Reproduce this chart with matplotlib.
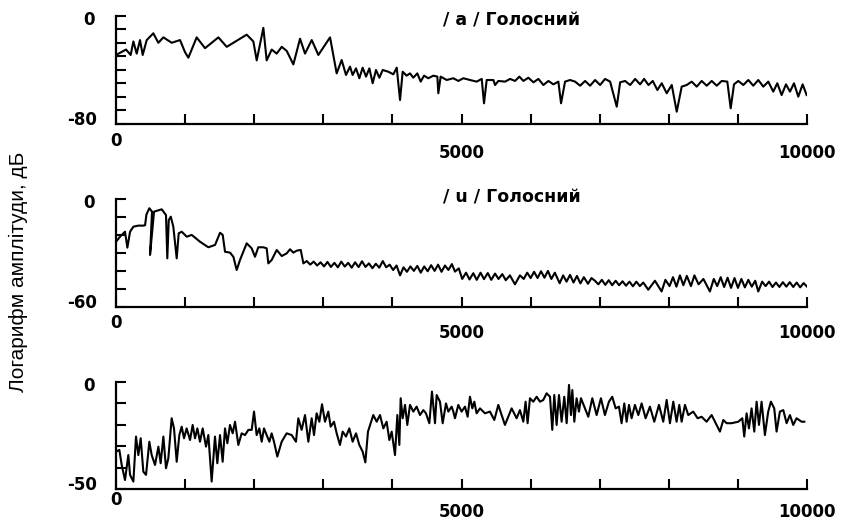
import matplotlib
matplotlib.use("Agg")
import matplotlib.pyplot as plt

plt.rcParams['font.family'] = ['Liberation Sans', 'DejaVu Sans']

# /a/ vowel spectrum, Hz and dB
a_hz = [0, 145, 212, 251, 299, 347, 386, 444, 540, 612, 685, 806, 926, 999, 1047, 1167, 1288, 1481, 1602, 1891,
        1987, 2036, 2132, 2180, 2253, 2325, 2398, 2470, 2566, 2663, 2735, 2832, 2928, 3097,
        3193, 3265, 3328, 3386, 3424, 3473, 3521, 3569, 3618, 3666, 3714, 3762, 3811, 3859, 3941, 4013, 4062, 4110,
        4148, 4206, 4254, 4302, 4360, 4409, 4457, 4519, 4592, 4650, 4664, 4698, 4785, 4881, 4954, 5026, 5123, 5219,
        5292, 5325, 5364, 5461, 5485, 5533, 5630, 5702, 5774, 5837, 5895, 5967, 6040, 6112, 6184, 6257, 6329, 6401,
        6440, 6498, 6571,
        6643, 6716, 6788, 6860, 6933, 7005, 7077, 7150, 7246, 7295, 7367, 7440, 7512, 7584, 7642, 7705, 7767, 7834,
        7897, 7969, 8042, 8114, 8186, 8258, 8331, 8403, 8475, 8548, 8620, 8693, 8765, 8846, 8895, 8943, 9005, 9078,
        9150, 9222, 9294, 9367, 9439, 9511, 9569, 9632, 9695, 9753, 9811, 9873, 9936, 9994]
a_db = [-29, -25, -29, -19, -28, -18, -29, -18, -13, -20, -16, -20, -18, -27, -31, -16, -24, -16, -23, -14,
        -19, -33, -9, -33, -25, -28, -23, -26, -36, -17, -28, -18, -29, -16,
        -42.6, -32.7, -43.8, -37.6, -43.8, -38.9, -46.2, -38.4, -45, -38.9, -49.9, -40.1, -45.8, -40.1, -41.4, -43.3,
        -38.4, -62.3, -41.4, -44.3, -42.6, -45.8, -42.6, -48.7, -44.3, -46.2, -44.3, -45, -57.3, -45, -47.5, -46.2,
        -48.2, -46.2, -47.5, -48.7, -46.7, -64.7, -47.5, -47.5, -51.2, -48.2, -48.7, -46.7, -48.2, -45, -48.2, -45.8,
        -49.2, -46.7, -51.2, -48.2, -50.7, -48.7, -64.7, -48.7, -47.5,
        -48.7, -51.7, -48.2, -51.7, -47.5, -51.2, -46.7, -48.7, -67.2, -49.2, -48.2, -51.2, -46.7, -50.7, -46.7, -51.2,
        -48.2, -54.9, -49.9, -57.3, -51.2, -70.9, -52.4, -51.2, -48.7, -52.4, -48.2, -51.7, -48.2, -51.7, -48.2, -48.7,
        -68.4, -50.7, -48.2, -51.2, -47.5, -51.7, -47.5, -52.4, -48.7, -56.1, -49.9, -58.6, -50.7, -56.1, -49.9, -59.8,
        -50.7, -58.6]

# /u/ vowel spectrum
u_hz = [0, 58, 130, 164, 203, 251, 323, 395, 420, 440, 482, 521, 492, 550, 661, 723, 742, 763, 792, 829,
        878, 907, 951, 1023, 1095, 1215, 1336, 1433, 1505, 1544, 1577, 1650, 1698, 1746, 1794, 1891, 1963, 2011, 2059, 2132,
        2180, 2204, 2253, 2325, 2398, 2470, 2518, 2566, 2614, 2673,
        2711, 2760, 2810, 2860, 2910, 2960, 3010, 3060, 3110, 3160, 3210, 3260, 3310, 3360, 3410, 3460, 3510, 3560,
        3610, 3660, 3710, 3760, 3810, 3860, 3910, 3960, 4010, 4060, 4110, 4160, 4210, 4260, 4310, 4360, 4410, 4460,
        4510, 4560, 4610, 4660, 4710, 4760, 4810, 4860,
        4905, 4960, 5010, 5065, 5115, 5170, 5220, 5275, 5325, 5380, 5430, 5485, 5535, 5590, 5640, 5700, 5773, 5845,
        5900, 5950, 6000, 6050, 6100, 6150, 6200, 6250, 6300, 6350, 6420, 6470, 6520, 6570, 6620, 6670, 6720, 6770,
        6830, 6880, 6930, 6980, 7030, 7080, 7130, 7180, 7230, 7280, 7330, 7380, 7430, 7480, 7530, 7580, 7630, 7702,
        7799, 7895, 7950, 8010, 8060, 8110, 8160, 8210, 8260, 8320, 8370, 8430, 8500, 8594, 8650, 8700, 8750, 8800,
        8850, 8900, 8950, 9000, 9050, 9100, 9150, 9200, 9250, 9294, 9350, 9400, 9450, 9500, 9550, 9600, 9650, 9700,
        9750, 9800, 9850, 9900, 9950, 10000]
u_db = [-23.7, -20.9, -18.1, -27, -18.1, -15.3, -14.7, -14.7, -14.5, -8.5, -5.0, -6.9, -31.1, -6.9, -5.6, -8.8,
        -33, -11.6, -9.7, -15.3, -33, -19, -18.1, -20.9, -19.9, -23.7, -26.8, -25.5, -18.7, -19.9, -29.3, -29.8,
        -32.1, -39.5, -33.9, -24.6, -27.4, -32.1, -26.8, -26.8, -27.4, -35.8, -33.9, -28.3, -31.7, -30.2, -27.9,
        -29.8, -28.7, -28.3,
        -35.8, -34.5, -36.5, -34.8, -37, -35.2, -37.5, -35.0, -37.8, -35.5, -38, -34.8, -37.6, -35.5, -38.2, -35.2,
        -37.9, -34.6, -37.8, -35.8, -38.5, -36, -38.2, -34.5, -38, -36.5, -39.5, -37, -42.5, -38, -40.5, -37.5, -40,
        -37.2, -41, -37.5, -40.2, -36.8, -40, -36.5, -40.5, -37, -39.5, -36.2,
        -40.4, -38.6, -44.5, -41.0, -44.8, -41.3, -45.0, -41.0, -44.6, -41.2, -45.0, -41.5, -44.5, -41.8, -45.2, -42.5,
        -47.5, -42.5, -44.5, -41.0, -44.0, -40.5, -44.0, -40.2, -43.8, -40.0, -44.5, -41.0, -46.9, -42.5, -46.0, -42.2,
        -46.5, -42.8, -47.0, -43.5, -47.2, -44.0, -45.5, -47.5, -45, -47.8, -45.2, -48, -45.5, -48, -45.8, -48.3, -46,
        -48.6, -46, -48.5, -46.5, -50.5, -45.5, -51.5, -45, -48.5, -43.5, -48.8, -42.5, -48, -42.8, -48.5, -42.5, -47.5,
        -44.5, -51.5, -44.5, -48.5, -43.5, -49, -43.8, -49.5, -44, -49.5, -44.5, -49.2, -45, -48.8, -45.5, -51.5, -46,
        -48.5, -46, -49, -46.5, -49, -46.3, -48.8, -46.3, -49, -46.5, -49.2, -46.8, -48.8]

# third spectrum
c_hz = [0, 48, 82, 130, 178, 203, 251, 289, 323, 357, 395, 434, 482, 516, 564, 613, 646, 685, 723, 757,
        805, 839, 878, 916, 950, 984, 1022, 1071, 1109, 1143, 1177, 1215, 1254, 1302, 1336, 1384, 1432, 1466, 1505, 1543,
        1577, 1611, 1649, 1688, 1722, 1770, 1818, 1867, 1915, 1963, 1997, 2035, 2074, 2108, 2141, 2180, 2219, 2252, 2286,
        2334, 2397, 2469, 2542, 2604, 2638, 2686, 2735, 2783, 2831, 2865, 2903, 2942, 2981, 3024, 3072, 3106, 3154, 3193,
        3241, 3280, 3328, 3376, 3424, 3473, 3521, 3569, 3608, 3646, 3685, 3723, 3772, 3820, 3868, 3916, 3955, 3989, 4037,
        4071, 4100, 4119, 4148, 4182, 4215, 4254, 4302, 4350, 4399, 4447, 4485, 4534, 4572, 4616, 4640, 4688, 4727, 4775,
        4809, 4857, 4881,
        4905, 4953, 5001, 5050, 5088, 5122, 5156, 5185, 5218, 5267, 5339, 5411, 5474, 5532, 5628, 5725, 5797, 5845, 5894,
        5927, 5956, 5990, 6038, 6087, 6135, 6183, 6231, 6280, 6313, 6342, 6376, 6410, 6448, 6487, 6521, 6555, 6583, 6603,
        6632, 6665, 6699, 6728, 6786, 6834, 6892, 6955, 7017, 7075, 7133, 7181, 7230, 7278, 7316, 7355, 7389, 7423, 7461,
        7509, 7558, 7606, 7664, 7726, 7789, 7857, 7919, 7968, 8016, 8064, 8112, 8151, 8185, 8233, 8281, 8353, 8416, 8474,
        8546, 8619, 8691, 8739, 8788, 8836, 8908, 9005, 9063, 9091, 9125, 9159, 9197, 9236, 9270, 9304, 9342, 9390, 9438,
        9477, 9525, 9559, 9607, 9656, 9704, 9752, 9800, 9848, 9921, 9960]
c_db = [-32.5, -31.7, -38.7, -45.7, -34.1, -43.3, -46.4, -25.5, -34.1, -26.3, -41.8, -43.3, -27.9, -34.1, -38.7,
        -30.2, -37.9, -25.5, -40.2, -35.6, -17.0, -21.7, -37.2, -24.8, -20.9, -26.3, -21.7, -27.1, -20.1, -26.3,
        -21.7, -27.9, -21.7, -30.2, -24.8, -46.4, -25.5, -37.9, -24.8, -37.2, -21.7, -28.6, -20.1, -24.0, -18.6,
        -29.4, -24.0, -24.8, -22.4, -22.4, -13.9, -24.8, -21.7, -27.9, -21.7, -24.8, -27.9, -24.0, -27.9, -34.8,
        -27.9, -24.0, -24.8, -27.9, -17.0, -22.4, -15.5, -27.9, -17.0, -24.8, -14.7, -18.6, -10.5, -18.6, -13.9,
        -20.9, -18.6, -24.0, -29.4, -23.2, -25.5, -21.7, -27.9, -24.0, -29.4, -32.5, -37.5, -23.2, -19.3, -15.5,
        -18.6, -15.5, -21.7, -18.6, -27.1, -23.2, -34.1, -15.5, -29.4, -7.7, -17.0, -10.8, -20.1, -10.8, -13.9,
        -11.6, -15.5, -13.2, -14.7, -19.3, -4.6, -19.3, -6.2, -9.3, -19.3, -10.1, -13.9, -11.6, -13.9,
        -17.0, -10.8, -13.9, -11.6, -16.3, -7.0, -12.4, -9.3, -14.7, -12.4, -14.7, -13.9, -17.8, -10.8, -20.1, -12.4,
        -17.0, -13.2, -18.6, -9.3, -19.3, -7.7, -9.3, -7.0, -9.3, -8.5, -5.4, -7.0, -22.4, -6.2, -20.1, -6.2, -18.6,
        -7.0, -19.3, -1.5, -15.5, -3.9, -18.6, -7.7, -13.9, -7.7, -12.4, -16.3, -7.7, -15.5, -7.7, -15.5, -9.3, -7.0,
        -12.4, -11.6, -19.3, -10.1, -18.6, -10.8, -17.0, -10.8, -15.5, -10.1, -17.0, -11.6, -18.6, -10.8, -18.6, -8.5,
        -19.3, -9.3, -18.6, -10.8, -18.6, -10.8, -15.5, -13.9, -17.0, -16.3, -18.6, -15.5, -20.1, -23.2, -17.8, -19.3,
        -19.3, -18.6, -17.0, -25.5, -14.7, -21.7, -12.4, -23.2, -9.3, -20.1, -9.3, -24.8, -13.9, -9.3, -12.4, -23.2,
        -13.9, -13.2, -19.3, -15.5, -20.1, -17.0, -18.6, -18.6]

titles = ['/ a / Голосний', '/ u / Голосний', None]
title_y = [-3.5, 1.0, None]
ymins = [-80, -60, -50]
x_labels = ['0', '5000', '10000']
ylabel = 'Логарифм амплітуди, дБ'

fig = plt.figure(figsize=(8.42, 5.25), dpi=100)
boxes = [[0.1378, 0.7638, 0.8207, 0.2063],
         [0.1378, 0.4158, 0.8207, 0.2046],
         [0.1378, 0.0680, 0.8207, 0.2050]]
# label offsets below the axis (points): first label, other labels
x_off = [(-12, -21), (-12, -19), (-8, -16)]

bold = dict(fontsize=12, fontweight='bold', family=['DejaVu Sans'])
for i, (box, hz, db, ymin) in enumerate(zip(boxes, [a_hz, u_hz, c_hz], [a_db, u_db, c_db], ymins)):
    ax = fig.add_axes(box)
    ax.plot(hz, db, color='black', lw=1.5)
    ax.set_xlim(0, 10000)
    ax.set_ylim(ymin, 0)
    ax.spines['top'].set_visible(False)
    ax.spines['right'].set_visible(False)
    for s in ['left', 'bottom']:
        ax.spines[s].set_linewidth(1.6)
    ax.set_xticks(range(0, 10001, 1000))
    ax.set_yticks(range(ymin, 1, 10))
    ax.tick_params(direction='in', length=7, width=1.5, labelbottom=False, labelleft=False)
    # y end labels
    ax.annotate('0', xy=(0, 0), xytext=(-15, -3), textcoords='offset points',
                ha='right', va='center', **bold)
    ax.annotate(str(ymin), xy=(0, ymin), xytext=(-14, 3), textcoords='offset points',
                ha='right', va='center', **bold)
    # x labels
    ax.annotate(x_labels[0], xy=(0, ymin), xytext=(0, x_off[i][0]), textcoords='offset points',
                ha='center', va='center', **bold)
    ax.annotate(x_labels[1], xy=(5000, ymin), xytext=(0, x_off[i][1]), textcoords='offset points',
                ha='center', va='center', **bold)
    ax.annotate(x_labels[2], xy=(10000, ymin), xytext=(0, x_off[i][1]), textcoords='offset points',
                ha='center', va='center', **bold)
    if titles[i]:
        ax.text(5730, title_y[i], titles[i], ha='center', va='center', fontsize=12.5,
                fontweight='bold', family=['DejaVu Sans'])

fig.text(0.022, 0.482, ylabel, rotation=90, ha='center', va='center', fontsize=15)
fig.savefig('out.png', dpi=100)
